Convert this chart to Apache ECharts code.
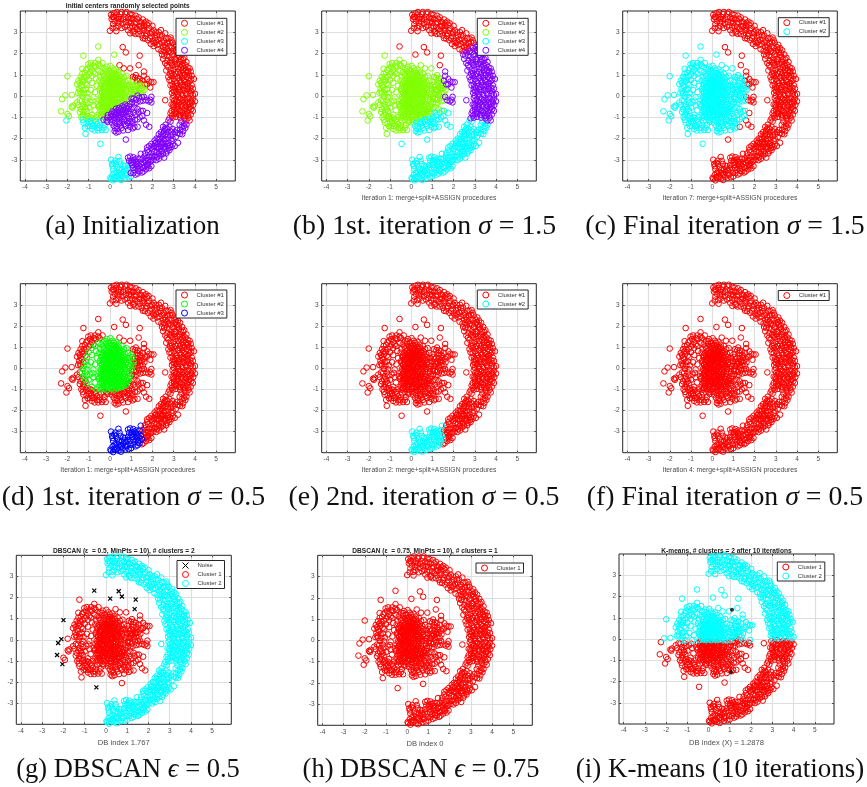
<!DOCTYPE html>
<html><head><meta charset="utf-8">
<style>html,body{margin:0;padding:0;background:#fff}#c{width:867px;height:787px}canvas{filter:blur(.4px)}</style>
<script src="https://cdn.jsdelivr.net/npm/echarts@6/dist/echarts.min.js"></script>
</head><body><div id="c"></div>
<script>
const xTicks=[-4,-3,-2,-1,0,1,2,3,4,5];
const yTicks=[-3,-2,-1,0,1,2,3];

// ---- ring pieces ----
const ringTop=[[0.05,3.82],[0.12,3.72],[0.2,3.9],[0.3,3.8],[0.32,3.95],[0.42,3.72],[0.5,3.85],[0.62,3.6],[0.72,3.88],[0.78,3.95],[0.85,3.7],[0.9,3.5],[0.6,3.4],[0.45,3.5],[0.15,3.38],[0.28,3.22],[0.0,3.07],[0.3,3.05],[0.55,3.2],[0.7,3.25],[0.85,3.1],[0.95,2.95],[1.05,3.3],[1.12,3.05],[1.1,3.6],[1.05,3.82],[1.25,3.45],[1.35,3.7],[1.3,3.15],[1.2,2.92],[1.45,3.3],[1.55,3.6],[1.6,3.1],[1.5,2.85],[1.65,2.7],[1.75,3.35],[1.7,3.5],[1.85,3.2],[1.9,2.95],[1.8,2.62],[2.0,3.3],[1.95,2.8],[2.05,3.1],[2.1,2.5],[2.05,2.35],[2.2,2.85],[2.25,2.65],[2.3,3.0],[2.4,3.1],[2.45,2.85],[2.5,2.3],[2.55,2.6],[2.6,2.95],[2.7,2.5],[2.7,2.2],[2.85,2.75],[2.8,2.35],[2.95,2.5],[0.38,3.62],[0.75,3.48],[0.95,3.22],[1.0,3.66],[1.18,3.25],[1.4,3.5],[1.42,3.05],[1.6,3.3],[1.72,2.95],[1.55,2.72],[1.88,2.72],[2.15,3.0],[2.12,2.72],[2.32,2.45],[2.4,2.7],[2.58,2.42],[2.75,2.7],[2.9,2.62],[0.08,3.62],[0.22,3.52],[0.68,3.72],[0.95,3.85],[1.22,3.78],[1.48,3.45],[2.28,2.2],[2.42,2.12],[0.18,3.72],[0.35,3.45],[0.52,3.62],[0.82,3.32],[0.98,3.45],[1.15,3.42],[1.28,3.62],[1.38,3.28],[1.52,3.18],[1.62,3.45],[1.78,3.08],[1.68,2.82],[1.98,3.0],[2.0,2.6],[2.22,2.4],[2.18,2.55],[2.35,2.85],[2.48,2.52],[2.65,2.72],[2.62,2.28],[2.82,2.52],[0.4,3.3],[0.12,3.2],[1.1,2.98],[1.35,2.92],[1.92,2.45],[2.55,2.15],[0.55,3.95],[0.92,3.62],[1.82,3.42]];
const ringUpper=[[2.45,1.95],[2.5,1.75],[2.6,2.05],[2.75,2.1],[2.9,2.25],[3.05,2.3],[3.2,2.25],[3.3,2.15],[3.15,2.05],[2.95,1.95],[2.8,1.85],[2.6,1.55],[2.7,1.65],[2.9,1.7],[3.05,1.75],[3.25,1.85],[3.4,1.95],[3.5,1.8],[3.6,1.6],[3.45,1.55],[3.3,1.6],[3.15,1.5],[2.95,1.45],[2.75,1.35],[2.65,1.2],[2.85,1.2],[3.0,1.25],[3.2,1.3],[3.35,1.35],[3.5,1.3],[3.65,1.35],[3.75,1.3],[3.8,1.15],[3.65,1.1],[3.45,1.1],[3.3,1.05],[3.1,1.05],[2.9,0.95],[2.75,0.9],[2.8,0.75],[3.0,0.8],[3.2,0.85],[3.4,0.85],[3.6,0.9],[3.85,0.95],[3.95,0.8],[3.75,0.7],[3.55,0.65],[3.35,0.65],[3.15,0.6],[2.95,0.55],[2.85,0.5],[3.05,0.4],[3.25,0.42],[3.45,0.45],[3.65,0.45],[3.85,0.5],[3.9,0.35],[3.7,0.25],[3.5,0.25],[3.3,0.2],[3.1,0.2],[2.92,0.15],[3.0,0.02],[3.2,0.05],[3.4,0.05],[3.6,0.08],[3.8,0.1],[4.0,0.1],[3.9,0.05],[3.12,2.4],[3.35,1.72],[3.02,1.62],[3.58,1.22],[2.92,1.08],[3.28,0.96],[3.52,0.98],[3.08,0.7],[3.62,0.58],[3.22,0.3],[3.56,0.16],[2.88,1.55],[3.18,1.92],[3.42,1.42],[3.72,1.0],[2.55,1.9],[2.68,1.92],[2.85,2.05],[3.0,2.12],[3.1,2.18],[3.25,2.02],[3.45,1.72],[3.55,1.45],[3.12,1.72],[2.82,1.58],[2.68,1.45],[3.08,1.38],[3.28,1.48],[3.42,1.22],[3.68,1.18],[2.82,1.05],[3.0,1.0],[3.2,1.12],[3.42,0.98],[3.7,0.85],[3.82,0.78],[2.9,0.72],[3.28,0.72],[3.48,0.72],[3.68,0.62],[2.98,0.42],[3.15,0.48],[3.35,0.5],[3.52,0.52],[3.78,0.38],[3.02,0.22],[3.18,0.12],[3.42,0.3],[3.62,0.32],[3.82,0.22],[2.95,0.3]];
const ringMid=[[2.95,-0.1],[3.1,-0.15],[3.3,-0.12],[3.5,-0.1],[3.7,-0.1],[3.9,-0.12],[4.0,-0.25],[3.85,-0.3],[3.65,-0.28],[3.45,-0.3],[3.25,-0.3],[3.05,-0.35],[2.9,-0.4],[3.0,-0.52],[3.2,-0.5],[3.4,-0.5],[3.6,-0.48],[3.8,-0.5],[3.92,-0.42],[3.9,-0.7],[3.7,-0.65],[3.5,-0.68],[3.3,-0.7],[3.1,-0.72],[2.9,-0.7],[2.85,-0.82],[3.0,-0.85],[3.25,-0.88],[3.45,-0.88],[3.6,-0.85],[3.8,-0.88],[3.7,-1.02],[3.5,-1.05],[3.3,-1.02],[3.1,-0.98],[2.95,-1.02],[2.8,-1.05],[3.75,-1.15],[3.6,-1.15],[3.15,-0.25],[3.55,-0.2],[3.35,-0.4],[3.75,-0.38],[3.15,-0.6],[3.55,-0.58],[3.4,-0.78],[3.02,-0.22],[3.22,-0.05],[3.42,-0.2],[3.62,-0.15],[3.82,-0.22],[2.98,-0.42],[3.18,-0.42],[3.52,-0.4],[3.72,-0.55],[3.02,-0.65],[3.22,-0.62],[3.62,-0.72],[3.82,-0.62],[2.92,-0.92],[3.12,-0.82],[3.52,-0.95],[3.68,-0.92],[3.32,-0.9]];
const ringLow=[[2.75,-1.15],[2.85,-1.2],[3.35,-1.2],[3.5,-1.3],[3.6,-1.35],[3.4,-1.45],[3.55,-1.5],[3.3,-1.6],[3.45,-1.65],[3.2,-1.75],[3.4,-1.8],[3.1,-1.92],[2.95,-1.55],[3.05,-1.7],[2.8,-1.45],[2.65,-1.5],[2.5,-1.45],[2.55,-1.65],[2.7,-1.7],[2.85,-1.85],[2.95,-2.0],[2.75,-2.0],[2.6,-1.85],[2.4,-1.7],[2.3,-1.8],[2.45,-1.95],[2.55,-2.1],[2.75,-2.2],[2.9,-2.12],[3.2,-2.2],[3.05,-2.35],[2.9,-2.4],[2.7,-2.35],[2.5,-2.25],[2.35,-2.15],[2.2,-2.0],[2.1,-2.1],[2.25,-2.25],[2.4,-2.4],[2.6,-2.5],[2.8,-2.55],[2.65,-2.7],[2.45,-2.6],[2.3,-2.5],[2.1,-2.35],[1.95,-2.25],[1.85,-2.35],[2.0,-2.5],[2.2,-2.65],[2.4,-2.8],[2.55,-2.9],[2.3,-2.95],[2.15,-2.8],[1.95,-2.7],[1.75,-2.55],[1.65,-2.7],[1.85,-2.85],[2.05,-3.0],[2.5,-1.78],[2.62,-2.02],[2.35,-2.02],[2.2,-2.42],[2.52,-2.4],[2.38,-2.62],[2.08,-2.62],[2.68,-2.6],[2.62,-1.35],[2.45,-2.18],[2.18,-2.2],[2.7,-1.55],[2.58,-1.55],[2.42,-1.85],[2.72,-1.85],[2.88,-1.68],[3.28,-1.35],[3.48,-1.42],[3.3,-1.78],[3.15,-1.6],[2.95,-1.82],[2.62,-2.22],[2.82,-2.32],[2.95,-2.28],[2.28,-2.02],[2.42,-2.28],[2.6,-2.38],[2.78,-2.45],[2.12,-2.22],[2.05,-2.38],[2.28,-2.38],[2.5,-2.72],[2.3,-2.72],[2.1,-2.85],[1.95,-2.42],[1.8,-2.65],[2.0,-2.85],[2.22,-2.88],[1.75,-2.42]];
const ringLower=[[1.9,-3.1],[1.55,-2.95],[1.7,-3.05],[1.75,-3.25],[1.95,-3.3],[1.6,-3.15],[1.55,-3.4],[1.7,-3.45],[1.5,-3.6],[1.8,-3.02],[1.65,-3.3],[1.85,-3.4],[1.62,-2.85],[2.18,-3.02],[1.8,-3.18],[1.95,-3.02],[1.62,-3.02],[1.72,-2.92],[1.58,-3.55],[1.78,-3.32]];
const ringBottomB=[[0.85,-2.9],[0.95,-2.85],[1.1,-2.88],[1.25,-2.95],[0.9,-3.05],[1.1,-3.1],[1.2,-3.25],[1.05,-3.25],[1.3,-3.1],[1.4,-2.95],[1.25,-3.4],[1.45,-3.2],[1.15,-3.5],[1.3,-3.65],[1.5,-3.35],[1.4,-3.55],[1.2,-3.7],[1.45,-2.72],[1.35,-3.28],[1.02,-3.02],[0.98,-3.62],[1.0,-3.15],[1.15,-3.0],[1.28,-3.2],[1.38,-3.42],[1.08,-3.38],[1.32,-3.52],[1.1,-3.62],[1.22,-3.08]];
const ringBottomA=[[0.05,-3.0],[0.1,-3.2],[0.2,-3.15],[0.4,-2.87],[0.25,-3.05],[0.5,-3.2],[0.35,-3.35],[0.15,-3.45],[0.3,-3.55],[0.55,-3.45],[0.7,-3.3],[0.85,-3.25],[0.75,-3.5],[0.5,-3.65],[0.3,-3.75],[0.12,-3.72],[0.05,-3.9],[0.15,-3.97],[0.25,-3.85],[0.4,-3.9],[0.52,-3.95],[0.6,-3.8],[0.8,-3.7],[0.95,-3.45],[1.0,-3.78],[0.62,-3.58],[0.42,-3.48],[0.62,-3.28],[0.02,-3.85],[0.72,-3.85],[0.12,-3.3],[0.28,-3.2],[0.45,-3.05],[0.42,-3.62],[0.22,-3.62],[0.68,-3.42],[0.82,-3.4],[0.55,-3.72],[0.35,-3.82],[0.18,-3.82],[0.88,-3.82],[0.72,-3.7]];

// ---- central cloud pieces ----
const coreUpper=[[-0.15,1.38],[0.02,1.42],[-0.3,1.3],[0.12,1.3],[0.3,1.25],[-0.55,1.2],[-0.4,1.12],[-0.2,1.15],[-0.05,1.2],[0.08,1.1],[0.22,1.08],[0.4,1.12],[0.55,1.05],[-0.7,1.05],[-0.85,0.95],[-0.45,0.92],[-0.28,0.95],[-0.12,0.9],[0.03,0.92],[0.18,0.88],[0.32,0.92],[0.48,0.86],[0.66,0.9],[0.78,0.95],[-1.0,0.75],[-0.5,0.74],[-0.34,0.7],[-0.18,0.72],[-0.05,0.75],[0.1,0.7],[0.24,0.74],[0.38,0.7],[0.52,0.72],[0.7,0.68],[0.85,0.72],[1.0,0.65],[-1.08,0.52],[-0.42,0.54],[-0.26,0.5],[-0.12,0.55],[0.0,0.5],[0.14,0.55],[0.28,0.5],[0.42,0.54],[0.58,0.5],[0.74,0.52],[0.9,0.48],[1.05,0.52],[-1.15,0.32],[-0.48,0.34],[-0.32,0.3],[-0.2,0.36],[-0.06,0.32],[0.07,0.36],[0.2,0.3],[0.34,0.35],[0.5,0.3],[0.66,0.34],[0.82,0.3],[0.98,0.33],[1.12,0.28],[-1.22,0.12],[-1.05,0.14],[-0.38,0.14],[-0.24,0.1],[-0.1,0.16],[0.04,0.12],[0.16,0.18],[0.3,0.12],[0.44,0.16],[0.6,0.12],[0.76,0.15],[0.92,0.1],[1.08,0.12],[-1.28,-0.04],[-1.1,-0.05],[-0.78,-0.06],[-0.44,-0.05],[-0.3,-0.02],[-0.14,-0.05],[0.0,-0.02],[0.12,-0.05],[0.26,-0.02],[0.4,-0.05],[0.54,-0.02],[0.7,-0.04],[0.86,-0.03],[1.02,-0.05],[-0.08,0.62],[0.06,0.42],[0.18,0.62],[0.12,0.22],[-0.02,0.22],[0.32,0.62],[0.26,0.42],[-0.18,0.44],[0.44,0.42],[-0.12,0.04],[0.08,0.04],[0.24,0.05],[0.16,0.78],[-0.3,0.6],[-0.38,0.2],[0.5,0.2],[-0.02,1.05],[0.14,0.98],[-0.2,1.28],[0.2,1.2],[-0.32,1.02],[-0.1,1.02],[0.28,1.0],[0.42,0.98],[-0.22,0.82],[0.08,0.82],[0.28,0.82],[0.42,0.78],[0.6,0.78],[-0.4,0.62],[-0.18,0.62],[0.02,0.62],[0.12,0.62],[0.26,0.62],[0.44,0.62],[0.62,0.6],[-0.3,0.42],[-0.08,0.44],[0.16,0.44],[0.36,0.44],[0.54,0.4],[0.72,0.42],[-0.45,0.24],[-0.28,0.2],[-0.14,0.26],[0.02,0.3],[0.26,0.24],[0.4,0.26],[0.58,0.22],[0.76,0.25],[-0.32,0.06],[-0.22,0.0],[0.18,0.08],[0.36,0.04],[0.52,0.07],[0.68,0.06],[-0.08,0.24],[0.1,0.5],[-0.02,0.38],[0.22,0.38],[-0.28,0.38],[-0.12,0.7],[0.04,0.7],[-0.66,0.82],[-0.85,0.62],[-0.62,0.48],[-0.9,0.28],[-0.7,0.18]];
const coreLowerLeft=[[-1.32,-0.22],[-1.15,-0.2],[-0.82,-0.22],[-0.5,-0.2],[-0.34,-0.18],[-0.18,-0.22],[-0.04,-0.18],[0.1,-0.2],[0.24,-0.18],[0.4,-0.2],[0.56,-0.18],[0.72,-0.2],[0.88,-0.18],[-1.25,-0.38],[-1.08,-0.35],[-0.58,-0.38],[-0.42,-0.34],[-0.28,-0.38],[-0.12,-0.34],[0.02,-0.38],[0.16,-0.34],[0.3,-0.38],[0.46,-0.34],[0.62,-0.36],[-1.18,-0.52],[-1.0,-0.55],[-0.52,-0.5],[-0.36,-0.54],[-0.2,-0.5],[-0.06,-0.54],[0.08,-0.5],[0.24,-0.52],[0.36,-0.48],[-1.1,-0.72],[-0.44,-0.72],[-0.28,-0.68],[-0.12,-0.72],[0.02,-0.66],[0.14,-0.62],[-0.85,-0.88],[-0.5,-0.88],[-0.34,-0.85],[-0.18,-0.86],[-0.62,-1.0],[-0.44,-1.02],[-0.26,-0.98],[-0.06,-0.26],[0.18,-0.26],[-0.24,-0.44],[-0.08,-0.62],[-0.4,-0.12],[-0.25,-0.12],[-0.1,-0.12],[0.05,-0.12],[0.18,-0.12],[0.32,-0.12],[0.48,-0.1],[-0.4,-0.27],[-0.16,-0.28],[0.32,-0.28],[0.5,-0.27],[0.66,-0.28],[-0.5,-0.44],[-0.34,-0.44],[-0.12,-0.44],[0.1,-0.42],[0.24,-0.44],[0.42,-0.42],[-0.4,-0.62],[-0.2,-0.6],[-0.02,-0.6],[0.16,-0.54],[-0.36,-0.76],[-0.2,-0.78],[-0.04,-0.76],[-0.4,-0.94],[-0.12,-0.82],[-0.78,-0.42],[-0.72,-0.68],[-0.92,-0.3]];
const coreLowerRight=[[0.2,-0.76],[0.35,-0.68],[0.5,-0.62],[0.66,-0.52],[0.8,-0.46],[0.94,-0.36],[-0.1,-0.9],[0.06,-0.84],[0.22,-0.9],[0.38,-0.82],[0.54,-0.76],[0.7,-0.68],[0.84,-0.6],[-0.12,-1.02],[0.04,-0.98],[0.2,-1.02],[0.36,-0.96],[0.52,-0.9],[0.66,-0.84],[0.28,-0.6],[0.42,-0.56],[0.58,-0.48],[0.72,-0.4],[0.12,-0.72],[0.3,-0.78],[0.46,-0.72],[0.62,-0.66],[0.76,-0.58],[0.9,-0.5],[0.12,-0.92],[0.28,-0.88],[0.44,-0.9],[0.6,-0.82],[0.76,-0.76]];
const haloLowNear=[[-0.3,-1.12],[-0.15,-1.15],[0.02,-1.12],[0.16,-1.12],[0.32,-1.08],[0.48,-1.05],[0.64,-1.0],[0.8,-0.95],[0.95,-0.85],[0.88,-0.72],[1.02,-0.62],[-0.12,-1.22],[0.08,-1.25]];
const haloLowFar=[[0.25,-1.25],[0.42,-1.22],[0.58,-1.2],[0.74,-1.14],[0.9,-1.06],[1.05,-1.0],[1.2,-0.9],[1.35,-0.78],[1.55,-0.7],[0.18,-1.4],[0.32,-1.42],[0.5,-1.38],[0.68,-1.32],[0.85,-1.28],[1.02,-1.18],[1.18,-1.12],[0.95,-1.45],[0.22,-1.65],[0.3,-1.72],[0.4,-1.68],[0.62,-1.62],[0.85,-1.6],[1.05,-1.3],[1.3,-1.1],[1.15,-1.45],[0.35,-1.55],[0.55,-1.5],[0.75,-1.42],[0.92,-1.18],[0.45,-1.3],[0.65,-1.1],[1.1,-0.78],[0.25,-1.52],[1.08,-1.52],[1.4,-1.0],[1.52,-0.95]];
const haloRightFarLow=[[1.75,-0.8],[1.6,-1.15],[1.3,-1.45],[1.7,-1.35],[1.85,-1.45],[0.75,-2.05]];
const haloRightFar=[[1.7,-0.2],[1.82,-0.25],[1.95,-0.3],[1.9,-0.18]];
const edgeRight=[[1.6,-0.04],[1.95,-0.04]];
const haloRightNear=[[1.3,0.02],[1.42,-0.25],[1.55,-0.22],[1.15,-0.55],[1.05,-0.28],[1.22,-0.18],[1.3,-0.62],[1.45,-0.7],[1.02,-0.12],[1.15,-0.35],[1.38,-0.08],[1.25,-0.32],[1.12,-0.12],[1.5,-0.05]];
const iso26=[[2.6,-0.2]];
const isoTop=[[0.6,2.3],[0.75,2.05],[1.4,1.9],[1.35,1.45]];
const isoTopLeft=[[0.2,1.95],[-0.55,2.33]];
const haloRightUpFar=[[1.6,1.15],[1.6,0.95],[1.75,0.8],[1.95,0.65],[2.05,0.65],[1.9,0.4],[1.65,0.55],[1.75,0.55],[1.85,0.68],[1.55,0.72]];
const haloRightUpNear=[[0.95,1.3],[0.65,1.3],[0.45,1.45],[1.4,0.8],[1.28,0.72],[1.18,0.85],[1.08,0.9],[1.42,0.62],[1.22,0.98],[1.3,0.85]];
const haloRightMid=[[1.18,0.5],[1.3,0.45],[1.5,0.35],[1.25,0.22],[1.42,0.15],[1.12,0.08],[1.62,0.28],[1.3,0.6],[1.45,0.48],[1.2,0.32],[1.35,0.3],[1.55,0.12],[1.18,0.2],[1.1,0.42],[1.32,0.12],[1.6,0.45],[1.42,0.32]];
const haloUpLeft=[[-1.25,1.9],[-0.9,1.55],[-0.7,1.55],[-0.55,1.7],[-0.35,1.55],[-1.02,1.5],[-1.3,1.28],[-1.05,1.3],[-0.85,1.25],[-0.65,1.38],[-1.18,1.1],[-1.0,1.02],[-1.38,0.9],[-1.22,0.9],[-1.48,0.72],[-1.28,0.66],[-1.55,0.55],[-1.32,0.42],[-1.45,0.35],[-1.5,0.15],[-1.8,0.05],[-1.38,0.12],[-0.95,1.38],[-0.75,1.42],[-1.12,1.22],[-0.92,1.12],[-0.78,1.12],[-1.3,1.05],[-1.1,0.92],[-1.42,0.62],[-1.2,0.76],[-1.38,0.5],[-1.25,0.28],[-1.42,0.22],[-0.48,1.42],[-1.15,0.6],[-1.32,0.78],[-0.55,1.5]];
const isoLeftUp=[[-2.0,0.93],[-2.1,0.03]];
const isoLeftDown=[[-2.25,-0.15],[-2.3,-0.72]];
const isoCyanA=[[-2.05,-1.15]];
const isoBelow=[[-0.45,-2.25]];
const haloLeft=[[-2.0,-0.85],[-1.93,-0.95],[-1.8,-0.5],[-1.72,-0.45],[-1.76,-0.55],[-1.55,-0.3],[-1.42,-0.2],[-1.38,-0.62],[-1.25,-0.75],[-1.35,-1.0],[-1.2,-0.9],[-1.05,-0.95],[-1.0,-1.1],[-0.82,-1.05],[-1.48,-0.42],[-1.3,-0.5],[-1.42,-0.75],[-1.15,-0.62],[-1.28,-0.9],[-1.12,-1.02],[-0.92,-1.0],[-0.72,-1.12]];
const haloLowCyan=[[-1.25,-1.25],[-1.1,-1.3],[-1.0,-1.22],[-0.88,-1.3],[-1.15,-1.78],[-0.95,-1.42],[-0.75,-1.4],[-0.85,-1.55],[-0.68,-1.2],[-0.6,-1.5],[-0.48,-1.38],[-0.55,-1.62],[-0.38,-1.6],[-0.3,-1.5],[-0.2,-1.6],[-0.72,-1.62],[-1.18,-1.5],[-1.05,-1.42],[-0.9,-1.18],[-0.82,-1.42],[-0.62,-1.32],[-0.42,-1.2],[-0.5,-1.5],[-0.25,-1.35],[-1.28,-1.12]];
const centroids=[[1.1,1.38],[1.05,-1.55]];

const RED='#ff0000',LIME='#80ff00',CYAN='#00ffff',PURPLE='#8000ff',GREEN='#00ff00',BLUE='#0000ff',BLACK='#000000';
const ringAll=[...ringTop,...ringUpper,...ringMid,...ringLow,...ringLower,...ringBottomB,...ringBottomA];
const cloudAll=[...coreUpper,...coreLowerLeft,...coreLowerRight,...haloLowNear,...haloLowFar,...haloRightFarLow,...haloRightFar,...edgeRight,...haloRightNear,...isoTop,...isoTopLeft,...haloRightUpFar,...haloRightUpNear,...haloRightMid,...haloUpLeft,...isoLeftUp,...isoLeftDown,...isoCyanA,...isoBelow,...haloLeft,...haloLowCyan];

const panels=[
{id:'a',box:[20.3,235.3,11,181],title:'Initial centers randomly selected points',titleY:3,legend:[176,18.3],cap:['(a) Initialization',132.5,227,27],series:[
 ['Cluster #1',RED,[...ringTop,...ringUpper,...ringMid,...iso26,...isoTop,...haloRightUpFar,...haloRightUpNear]],
 ['Cluster #2',LIME,[...coreUpper,...coreLowerLeft,...haloRightMid,...haloUpLeft,...isoLeftUp,...isoLeftDown,...isoTopLeft,...haloLeft]],
 ['Cluster #3',CYAN,[...ringBottomA,...haloLowCyan,...isoCyanA,...isoBelow]],
 ['Cluster #4',PURPLE,[...ringLow,...ringLower,...ringBottomB,...coreLowerRight,...haloLowNear,...haloLowFar,...haloRightFarLow,...haloRightFar,...edgeRight,...haloRightNear]]]},
{id:'b',box:[321.7,536.3,11,181],xName:'Iteration 1: merge+split+ASSIGN procedures',legend:[477.3,18.3],cap:['(b) 1st. iteration {i|σ} = 1.5',424.5,227,27.8],series:[
 ['Cluster #1',RED,[...ringTop,...isoTop,...isoTopLeft]],
 ['Cluster #2',LIME,[...coreUpper,...coreLowerLeft,...coreLowerRight,...haloLowNear,...haloRightNear,...haloRightMid,...haloRightUpNear,...haloUpLeft,...isoLeftUp,...isoLeftDown,...isoCyanA,...haloLeft,...haloLowCyan]],
 ['Cluster #3',CYAN,[...ringLow,...ringLower,...ringBottomB,...ringBottomA,...haloLowFar,...haloRightFarLow,...isoBelow]],
 ['Cluster #4',PURPLE,[...ringUpper,...ringMid,...iso26,...haloRightUpFar,...haloRightFar,...edgeRight]]]},
{id:'c',box:[622.7,837.3,11,181],xName:'Iteration 7: merge+split+ASSIGN procedures',legend:[778.3,17.7],cap:['(c) Final iteration {i|σ} = 1.5',725,227,27.8],series:[
 ['Cluster #1',RED,[...ringAll,...iso26,...isoTop,...haloRightUpFar,...haloRightFar,...edgeRight,...haloRightFarLow]],
 ['Cluster #2',CYAN,[...coreUpper,...coreLowerLeft,...coreLowerRight,...haloLowNear,...haloLowFar,...haloRightNear,...haloRightMid,...haloRightUpNear,...haloUpLeft,...isoTopLeft,...isoLeftUp,...isoLeftDown,...isoCyanA,...isoBelow,...haloLeft,...haloLowCyan]]]},
{id:'d',box:[20.3,235.3,283.7,452.7],xName:'Iteration 1: merge+split+ASSIGN procedures',legend:[176,290],cap:['(d) 1st. iteration {i|σ} = 0.5',133.5,498,27.8],series:[
 ['Cluster #1',RED,[...ringTop,...ringUpper,...ringMid,...ringLow,...ringLower,...iso26,...isoTop,...isoTopLeft,...haloRightUpFar,...haloRightUpNear,...haloRightMid,...haloRightFar,...edgeRight,...haloRightFarLow,...haloRightNear,...haloLowNear,...haloLowFar,...haloUpLeft,...isoLeftUp,...isoLeftDown,...isoCyanA,...isoBelow,...haloLeft,...haloLowCyan]],
 ['Cluster #2',GREEN,[...coreUpper,...coreLowerLeft,...coreLowerRight]],
 ['Cluster #3',BLUE,[...ringBottomB,...ringBottomA]]]},
{id:'e',box:[321.7,536.3,283.7,452.7],xName:'Iteration 2: merge+split+ASSIGN procedures',legend:[477.3,290],cap:['(e) 2nd. iteration {i|σ} = 0.5',424,498,27.8],series:[
 ['Cluster #1',RED,[...ringTop,...ringUpper,...ringMid,...ringLow,...ringLower,...iso26,...cloudAll]],
 ['Cluster #2',CYAN,[...ringBottomB,...ringBottomA]]]},
{id:'f',box:[622.7,837.3,283.7,452.7],xName:'Iteration 4: merge+split+ASSIGN procedures',legend:[778.3,290.5],cap:['(f) Final iteration {i|σ} = 0.5',725,498,27.8],series:[
 ['Cluster #1',RED,[...ringAll,...iso26,...cloudAll]]]},
{id:'g',box:[16.3,231.3,555.3,724.3],title:'DBSCAN (ε  = 0.5, MinPts = 10), # clusters = 2',titleY:547.5,xName:'DB index 1.767',xNameSize:7.6,legend:[177,560.5],cap:['(g) DBSCAN {i|ϵ} = 0.5',128,770,26.5],series:[
 ['Noise',BLACK,[...isoTop,...isoTopLeft,...isoLeftUp,...isoLeftDown,...isoCyanA,...isoBelow],'x'],
 ['Cluster 1',RED,[...coreUpper,...coreLowerLeft,...coreLowerRight,...haloLowNear,...haloLowFar,...haloRightFarLow,...haloRightFar,...edgeRight,...haloRightNear,...haloRightUpFar,...haloRightUpNear,...haloRightMid,...haloUpLeft,...haloLeft,...haloLowCyan]],
 ['Cluster 2',CYAN,[...ringAll,...iso26]]]},
{id:'h',box:[317.7,532.3,555.3,725.3],title:'DBSCAN (ε  = 0.75, MinPts = 10), # clusters = 1',titleY:547.5,xName:'DB index 0',xNameSize:7.6,legend:[476,563],cap:['(h) DBSCAN {i|ϵ} = 0.75',421,770,26.5],series:[
 ['Cluster 1',RED,[...ringAll,...iso26,...cloudAll]]]},
{id:'i',box:[619,834,554,724],title:'K-means, # clusters = 2 after 10 iterations',titleY:547.5,xName:'DB index (X) = 1.2878',xNameSize:7.6,legend:[777.3,562],cap:['(i) K-means (10 iterations)',720,770,27],centers:centroids,series:[
 ['Cluster 1',RED,[...ringMid,...ringLow,...ringLower,...ringBottomB,...ringBottomA,...iso26,...coreLowerLeft,...coreLowerRight,...haloLowNear,...haloLowFar,...haloRightFarLow,...haloRightFar,...haloRightNear,...isoLeftDown,...isoCyanA,...isoBelow,...haloLeft,...haloLowCyan]],
 ['Cluster 2',CYAN,[...ringTop,...ringUpper,...coreUpper,...edgeRight,...isoTop,...isoTopLeft,...haloRightUpFar,...haloRightUpNear,...haloRightMid,...haloUpLeft,...isoLeftUp]]]}
];

const SANS='"Liberation Sans",Arial,sans-serif',SERIF='"Liberation Serif",serif';
const TXT='#4d4d4d',FRAME='#262626',GRID='#dedede';
const CROSS='path://M0 0L10 10M10 0L0 10';
const opt={animation:false,backgroundColor:'#fff',title:[],grid:[],xAxis:[],yAxis:[],series:[],legend:[]};
panels.forEach((p,i)=>{
  const [l,r,t,b]=p.box;
  opt.grid.push({left:l,top:t,width:r-l,height:b-t,show:true,borderColor:FRAME,borderWidth:1,backgroundColor:'#fff'});
  const tick={show:true,inside:true,length:2,lineStyle:{color:FRAME,width:.8}};
  const noLine={show:false,onZero:false};
  const axisBase={gridIndex:i,type:'value',axisLine:noLine,splitLine:{show:false},axisLabel:{show:false}};
  const xb={...axisBase,min:-4.22,max:5.9,position:'bottom',axisTick:{...tick,customValues:xTicks},
    axisLabel:{customValues:xTicks,fontSize:6.5,color:TXT,fontFamily:SANS,margin:3},
    splitLine:{show:true,lineStyle:{color:GRID,width:1.2}}};
  if(p.xName){xb.name=p.xName;xb.nameLocation='middle';xb.nameGap=p.xNameSize?14.5:14;
    xb.nameTextStyle={fontSize:p.xNameSize||6.8,color:TXT,fontFamily:SANS};}
  const yl={...axisBase,min:-4,max:4,position:'left',axisTick:{...tick,customValues:yTicks},
    axisLabel:{customValues:yTicks,fontSize:6.5,color:TXT,fontFamily:SANS,margin:3},
    splitLine:{show:true,lineStyle:{color:GRID,width:1.2}}};
  const xIdx=opt.xAxis.length,yIdx=opt.yAxis.length;
  opt.xAxis.push(xb,{...axisBase,min:-4.22,max:5.9,position:'top',axisTick:{...tick,customValues:xTicks}});
  opt.yAxis.push(yl,{...axisBase,min:-4,max:4,position:'right',axisTick:{...tick,customValues:yTicks}});
  if(p.title)opt.title.push({text:p.title,left:(l+r)/2,top:p.titleY,textAlign:'center',padding:0,
    textStyle:{fontSize:6.6,fontWeight:'bold',color:'#222',fontFamily:SANS}});
  const size=p.cap[3];
  opt.title.push({text:p.cap[0],left:p.cap[1],top:p.cap[2]-size/2,textAlign:'center',padding:0,
    textStyle:{fontSize:size,fontWeight:'normal',color:'#111',fontFamily:SERIF,
      rich:{i:{fontStyle:'italic',fontSize:size,fontFamily:SERIF,color:'#111'}}}});
  p.series.forEach(s=>{
    const isX=s[3]==='x';
    opt.series.push({type:'scatter',name:p.id+':'+s[0],xAxisIndex:xIdx,yAxisIndex:yIdx,data:s[2],silent:true,
      symbol:isX?CROSS:'circle',symbolSize:isX?4:5.6,large:false,
      itemStyle:{color:'transparent',borderColor:s[1],borderWidth:isX?1.2:1,opacity:1}});
  });
  if(p.centers)opt.series.push({type:'scatter',name:p.id+':centers',xAxisIndex:xIdx,yAxisIndex:yIdx,data:p.centers,silent:true,
      symbol:'circle',symbolSize:4,itemStyle:{color:BLACK},z:5});
  opt.legend.push({left:p.legend[0],top:p.legend[1],orient:'vertical',backgroundColor:'#fff',borderColor:FRAME,borderWidth:1,
    padding:[1.5,3,1.5,5],itemWidth:14,itemHeight:6,itemGap:2,selectedMode:false,
    formatter:n=>n.split(':')[1],
    textStyle:{fontSize:6,color:'#333',fontFamily:SANS},
    itemStyle:{color:'transparent',borderWidth:1,borderColor:'inherit'},
    data:p.series.map(s=>({name:p.id+':'+s[0],icon:s[3]==='x'?CROSS:'circle'}))});
});
const chart=echarts.init(document.getElementById('c'),null,{renderer:'canvas',devicePixelRatio:1});
chart.setOption(opt);
</script>
</body></html>
